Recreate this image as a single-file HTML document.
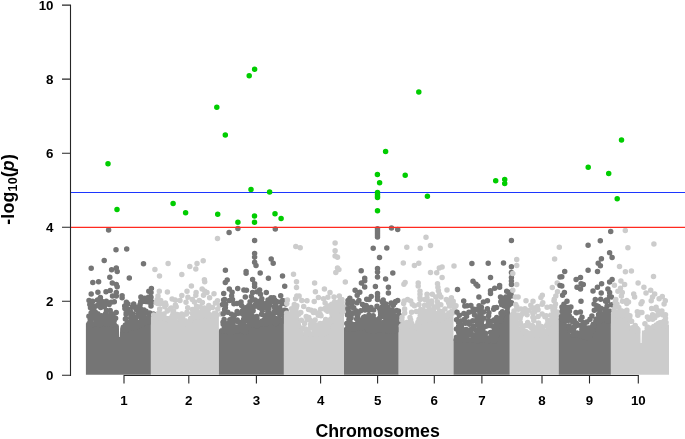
<!DOCTYPE html>
<html><head><meta charset="utf-8"><title>Manhattan plot</title>
<style>
html,body{margin:0;padding:0;background:#fff}
svg{display:block;will-change:transform}
text{font-family:"Liberation Sans",sans-serif;font-weight:bold;fill:#000}
.t{font-size:13.33px}
.l{font-size:17.78px}
</style></head><body>
<svg width="685" height="439" viewBox="0 0 685 439">
<rect width="685" height="439" fill="#fff"/>
<defs><clipPath id="c"><rect x="70.5" y="5.1" width="614.5" height="369.7"/></clipPath></defs>
<g clip-path="url(#c)">
<polygon points="85.9,374.9 85.9,323.5 86.2,323.5 86.4,323.5 86.7,323.5 86.9,323.5 87.2,323.5 87.4,323.5 87.7,323.5 87.9,323.5 88.2,323.5 88.4,323.5 88.7,323.5 88.9,323.5 89.2,323.5 89.4,323.5 89.7,323.5 89.9,323.5 90.2,323.5 90.4,323.5 90.7,323.5 90.9,323.5 91.2,323.5 91.4,323.5 91.7,323.5 91.9,323.5 92.2,323.5 92.4,323.5 92.7,323.5 92.9,323.5 93.2,323.5 93.4,323.5 93.7,323.5 93.9,323.5 94.2,323.5 94.4,323.5 94.7,323.5 94.9,323.5 95.2,323.5 95.4,323.5 95.7,323.5 95.9,323.5 96.2,323.5 96.4,323.5 96.7,323.5 96.9,323.5 97.2,323.5 97.4,323.5 97.7,323.5 97.9,323.5 98.2,323.5 98.4,323.5 98.7,323.5 98.9,323.5 99.2,323.5 99.4,323.5 99.7,323.5 99.9,323.5 100.2,323.5 100.4,323.5 100.7,323.5 100.9,323.5 101.2,323.5 101.4,323.5 101.7,323.5 101.9,323.5 102.2,323.5 102.4,323.5 102.7,323.5 102.9,323.5 103.2,323.5 103.4,323.5 103.7,323.5 103.9,323.5 104.2,323.5 104.4,323.5 104.7,323.5 104.9,323.5 105.2,323.5 105.4,323.5 105.7,323.5 105.9,323.5 106.2,323.5 106.4,323.5 106.7,323.5 106.9,323.5 107.2,323.5 107.4,323.5 107.7,323.5 107.9,323.5 108.2,323.5 108.4,323.5 108.7,323.5 108.9,323.5 109.2,323.5 109.4,323.5 109.7,323.5 109.9,323.5 110.2,323.5 110.4,323.5 110.7,323.5 110.9,323.5 111.2,323.5 111.4,323.5 111.7,323.5 111.9,323.5 112.2,323.5 112.4,323.5 112.7,323.5 112.9,323.5 113.2,323.5 113.4,323.5 113.7,323.5 113.9,323.5 114.2,323.5 114.4,323.5 114.7,323.5 114.9,323.5 115.2,323.5 115.4,323.5 115.7,323.5 115.9,323.5 116.2,323.5 116.4,323.5 116.7,323.9 116.9,323.9 117.2,323.9 117.4,323.9 117.7,324.6 117.9,324.6 118.2,324.6 118.4,324.6 118.7,325.7 118.9,325.7 119.2,337 119.4,337 119.7,337 119.9,337 120.2,327.1 120.4,327.1 120.7,328.2 120.9,328.2 121.2,328.1 121.4,328.1 121.7,328.8 121.9,328.8 122.2,328.8 122.4,328.8 122.7,329.1 122.9,329.1 123.2,329 123.4,329 123.7,329 123.9,328.9 124.2,328.9 124.4,328.9 124.7,328.8 124.9,328.8 125.2,328.8 125.4,328.7 125.7,328.7 125.9,328.7 126.2,328.6 126.4,328.6 126.7,328.6 126.9,328.5 127.2,328.5 127.4,328.5 127.7,328.4 127.9,328.4 128.2,328.4 128.4,328.4 128.7,328.3 128.9,328.3 129.2,328.3 129.4,328.2 129.7,328.2 129.9,328.2 130.2,328.1 130.4,328.1 130.7,328.1 130.9,328 131.2,328 131.4,328 131.7,327.9 131.9,327.9 132.2,327.9 132.4,327.8 132.7,327.8 132.9,327.7 133.2,327.7 133.4,327.6 133.7,327.6 133.9,327.5 134.2,327.4 134.4,327.3 134.7,327.2 134.9,327.1 135.2,327 135.4,326.9 135.7,326.7 135.9,326.6 136.2,326.4 136.4,326.3 136.7,326.1 136.9,325.9 137.2,325.7 137.4,325.6 137.7,325.4 137.9,325.2 138.2,325 138.4,324.9 138.7,324.7 138.9,324.5 139.2,324.3 139.4,324.2 139.7,324 139.9,323.9 140.2,323.8 140.4,323.6 140.7,323.5 140.9,323.4 141.2,323.3 141.4,323.2 141.7,323.1 141.9,323 142.2,323 142.4,322.9 142.7,322.8 142.9,322.7 143.2,322.7 143.4,322.6 143.7,322.5 143.9,322.5 144.2,322.4 144.4,322.3 144.7,322.3 144.9,322.2 145.2,322.1 145.4,322.1 145.7,322 145.9,321.9 146.2,321.9 146.4,321.8 146.7,321.8 146.9,321.7 147.2,321.6 147.4,321.6 147.7,321.5 147.9,321.4 148.2,321.4 148.4,321.3 148.7,321.2 148.9,321.2 149.2,321.1 149.4,321.1 149.7,321 149.9,321 150.2,320.9 150.4,320.9 150.7,320.8 150.9,320.8 150.9,374.9" fill="#757575"/>
<path d="M89.1 323.5h.01M90.3 321.4h.01M90.2 319.4h.01M88.9 316.2h.01M91.1 313.1h.01M90.5 307.7h.01M89.8 304.6h.01M91.2 303.6h.01M89 300.6h.01M93 324.6h.01M92.4 317.8h.01M94.3 314.3h.01M94.6 313.1h.01M93.9 310h.01M91.8 305.5h.01M97.6 323h.01M95.8 320.5h.01M96 319h.01M94.8 314.2h.01M95.4 312.3h.01M96 305.9h.01M97.7 324.2h.01M99.3 319.6h.01M99.2 317.6h.01M97.8 313.8h.01M98.8 304.2h.01M101 323h.01M102.1 319.2h.01M101.7 315.7h.01M100.7 307.6h.01M101.1 305.9h.01M102.2 301.6h.01M106.1 323.3h.01M105.2 321.4h.01M103.7 318.7h.01M105.7 313.6h.01M106.5 310.5h.01M104.3 306.8h.01M104.3 302.6h.01M109.1 322.6h.01M107.9 319.7h.01M107 316h.01M109.1 304.6h.01M110.4 324.2h.01M112.4 321.4h.01M111.4 316.8h.01M112.4 315h.01M111.2 313.4h.01M110.2 310.5h.01M111.1 302.3h.01M114 323.7h.01M114.2 320.4h.01M114.2 318.1h.01M114.3 301.7h.01M116.2 312.5h.01M123.3 327.3h.01M126 330.3h.01M125.4 324.9h.01M125.4 318.9h.01M125.7 318.8h.01M126.1 314.3h.01M126.2 312.8h.01M124.9 308.6h.01M124.7 305.9h.01M126.4 302.2h.01M130.3 328.6h.01M130.1 327h.01M129.2 321.9h.01M130.3 313.4h.01M127.7 309h.01M128 303.9h.01M131.4 327.9h.01M132.9 324.1h.01M131.8 322.6h.01M133 319.2h.01M130.9 317.6h.01M132.9 314.1h.01M130.7 311.9h.01M132.7 307h.01M134.5 325.9h.01M135.4 320.1h.01M136.5 317.1h.01M136.3 309.4h.01M136.3 307.1h.01M133.7 304h.01M137.8 325h.01M137.7 323.7h.01M136.8 321.7h.01M139.5 315.3h.01M138.2 312.4h.01M139.5 307.4h.01M141.1 324.9h.01M141.9 320h.01M141.6 319.1h.01M140.8 316.5h.01M140.3 311.3h.01M140.3 308.3h.01M140.1 304.4h.01M140.7 301.7h.01M144.2 319.9h.01M143.5 315h.01M144 309.9h.01M142.7 301.6h.01M147.6 321.7h.01M147.3 320.9h.01M148.4 313h.01M146 311.2h.01M145.9 301.4h.01M148.7 321.7h.01M149.9 319.4h.01M151.4 316.5h.01M149.7 312.9h.01M151 306h.01M149.3 302.3h.01M151.1 301.5h.01M151.8 319.6h.01M153.4 314.1h.01M152 302h.01M88.7 324.4h.01M90.6 323.3h.01M93.4 324h.01M95.2 318.8h.01M96.2 323.2h.01M98.8 320.9h.01M99.9 324.4h.01M101.1 318.2h.01M102.6 321.1h.01M105.4 323.5h.01M106.9 316.6h.01M109.1 323.7h.01M111.6 323.5h.01M113.1 324.5h.01M115.6 318.3h.01M123.8 328.7h.01M125.3 328.5h.01M127.3 323.1h.01M128.7 325.4h.01M131.1 324.8h.01M133.7 326.5h.01M135.3 327.5h.01M137.1 323.9h.01M138.2 326.4h.01M140.7 324.5h.01M141.9 324.5h.01M144 322.8h.01M146.9 317.7h.01M149.9 321.5h.01M151.1 321.7h.01M153.1 318.7h.01M108.6 229.9h.01M116 249.7h.01M126.7 248.9h.01M104.2 260.6h.01M91.2 268.3h.01M143.5 263.8h.01M111.6 269.7h.01M116.3 268h.01M117.2 271.5h.01M109.8 277.3h.01M129.3 278h.01M92.8 282.5h.01M98.6 281.8h.01M112.3 283.1h.01M116.3 284.6h.01M117.2 286.8h.01M110.2 290.4h.01M106 291.8h.01M97.9 292.2h.01M91.2 294.1h.01M116.3 292.5h.01M112.5 296.1h.01M116.3 296h.01M122.1 295.7h.01M122.1 297.8h.01M100.4 297.6h.01M97.5 300h.01M92.6 301.3h.01M106.3 301.3h.01M151.4 288.5h.01M148.8 291.3h.01M151 292.5h.01M140.9 296.9h.01M144.9 298.3h.01M151 297.3h.01M148.4 297.3h.01" stroke="#757575" stroke-width="5.5" stroke-linecap="round" fill="none"/>
<polygon points="150.9,374.9 150.9,316.5 151.2,316.5 151.4,316.5 151.7,316.6 151.9,316.6 152.2,316.6 152.4,316.6 152.7,316.6 152.9,316.6 153.2,316.6 153.4,316.7 153.7,316.7 153.9,316.7 154.2,316.7 154.4,316.7 154.7,316.7 154.9,316.8 155.2,316.8 155.4,316.8 155.7,316.8 155.9,316.8 156.2,316.8 156.4,316.9 156.7,316.9 156.9,316.9 157.2,316.9 157.4,316.9 157.7,317 157.9,317 158.2,317 158.4,317 158.7,317 158.9,317.1 159.2,317.1 159.4,317.1 159.7,317.1 159.9,317.1 160.2,317.1 160.4,317.2 160.7,317.2 160.9,317.2 161.2,317.2 161.4,317.2 161.7,317.3 161.9,317.3 162.2,317.3 162.4,317.3 162.7,317.3 162.9,317.4 163.2,317.4 163.4,317.4 163.7,317.4 163.9,317.4 164.2,317.5 164.4,317.5 164.7,317.5 164.9,317.6 165.2,317.6 165.4,317.6 165.7,317.7 165.9,317.7 166.2,317.8 166.4,317.8 166.7,317.8 166.9,317.9 167.2,317.9 167.4,318 167.7,318 167.9,318.1 168.2,318.1 168.4,318.2 168.7,318.2 168.9,318.3 169.2,318.3 169.4,318.4 169.7,318.4 169.9,318.5 170.2,318.5 170.4,318.6 170.7,318.6 170.9,318.7 171.2,318.7 171.4,318.8 171.7,318.8 171.9,318.9 172.2,318.9 172.4,319 172.7,319 172.9,319.1 173.2,319.1 173.4,319.2 173.7,319.2 173.9,319.3 174.2,319.3 174.4,319.4 174.7,319.4 174.9,319.5 175.2,319.5 175.4,319.6 175.7,319.6 175.9,319.7 176.2,319.7 176.4,319.8 176.7,319.8 176.9,319.9 177.2,319.9 177.4,320 177.7,320.1 177.9,320.1 178.2,320.2 178.4,320.3 178.7,320.4 178.9,320.5 179.2,320.6 179.4,320.7 179.7,320.8 179.9,320.9 180.2,321.1 180.4,321.3 180.7,321.5 180.9,321.6 181.2,321.8 181.4,322 181.7,322.3 181.9,322.5 182.2,322.7 182.4,322.9 182.7,323.2 182.9,323.4 183.2,323.6 183.4,323.9 183.7,324.1 183.9,324.3 184.2,324.6 184.4,324.8 184.7,325 184.9,325.2 185.2,325.3 185.4,325.5 185.7,325.7 185.9,325.8 186.2,325.9 186.4,325.9 186.7,325.9 186.9,325.9 187.2,325.8 187.4,325.6 187.7,325.4 187.9,325.1 188.2,324.8 188.4,324.4 188.7,324 188.9,323.6 189.2,323 189.4,322.4 189.7,321.8 189.9,321.2 190.2,320.6 190.4,320 190.7,319.4 190.9,318.8 191.2,318.3 191.4,317.9 191.7,317.4 191.9,317 192.2,316.7 192.4,316.4 192.7,316.1 192.9,315.9 193.2,315.7 193.4,315.6 193.7,315.5 193.9,315.4 194.2,315.4 194.4,315.4 194.7,315.4 194.9,315.4 195.2,315.4 195.4,315.3 195.7,315.3 195.9,315.3 196.2,315.3 196.4,315.3 196.7,315.3 196.9,315.3 197.2,315.3 197.4,315.3 197.7,315.3 197.9,315.3 198.2,315.2 198.4,315.2 198.7,315.2 198.9,315.2 199.2,315.2 199.4,315.2 199.7,315.2 199.9,315.2 200.2,315.2 200.4,315.2 200.7,315.2 200.9,315.1 201.2,315.1 201.4,315.1 201.7,315.1 201.9,315.1 202.2,315.1 202.4,315.1 202.7,315.1 202.9,315.1 203.2,315.1 203.4,315.1 203.7,315 203.9,315 204.2,315 204.4,315 204.7,315 204.9,315 205.2,315 205.4,315 205.7,315 205.9,315 206.2,315 206.4,315 206.7,314.9 206.9,314.9 207.2,314.9 207.4,314.9 207.7,314.9 207.9,314.9 208.2,314.9 208.4,314.9 208.7,314.9 208.9,314.9 209.2,314.9 209.4,314.8 209.7,314.8 209.9,314.8 210.2,314.8 210.4,314.8 210.7,314.8 210.9,314.8 211.2,314.8 211.4,314.8 211.7,314.8 211.9,314.8 212.2,314.7 212.4,314.7 212.7,314.7 212.9,314.7 213.2,314.7 213.4,314.7 213.7,314.7 213.9,314.7 214.2,314.7 214.4,314.7 214.7,314.7 214.9,314.6 215.2,314.6 215.4,314.6 215.7,314.6 215.9,314.6 216.2,314.6 216.4,314.6 216.7,314.6 216.9,314.6 217.2,314.6 217.4,314.6 217.7,314.6 217.9,314.6 218.2,314.5 218.4,314.5 218.7,314.5 218.9,314.5 218.9,374.9" fill="#cccccc"/>
<path d="M154.9 316.8h.01M156.2 302.8h.01M159.6 318.6h.01M157.5 303.5h.01M160.3 318.4h.01M159.7 309.1h.01M160.6 303.5h.01M163.7 318.1h.01M164.8 306.7h.01M165.4 303.1h.01M168.4 319.4h.01M166 304.9h.01M169 319.5h.01M170.3 309h.01M171.2 307.9h.01M172.2 319.4h.01M172 316.6h.01M173 313.3h.01M173.6 311.6h.01M174.8 320.4h.01M177.3 314.6h.01M176.2 306.7h.01M175.4 304.9h.01M175.2 300h.01M180.6 320.2h.01M180 318.3h.01M182.2 320.9h.01M181.3 318.6h.01M180.7 316.5h.01M181.7 313.9h.01M184.7 324.3h.01M186.4 314.1h.01M186 302.2h.01M189 325.8h.01M189.2 322.7h.01M187 312.2h.01M187.7 307.7h.01M190.4 321.3h.01M192.3 313.5h.01M192.4 309.6h.01M193 315.2h.01M193.1 314.9h.01M194.7 310.1h.01M194.4 301.9h.01M196.5 317h.01M197.9 313.7h.01M196.9 311.3h.01M196.5 306.2h.01M198.7 316.6h.01M200.1 306.7h.01M202.7 315.9h.01M204.3 308h.01M202.4 302.4h.01M207 315.3h.01M206 311.4h.01M205.2 310.1h.01M209 316.3h.01M208.3 309.7h.01M208.8 305.5h.01M213.2 314.8h.01M212.5 307.5h.01M215.3 316.2h.01M215.4 303.1h.01M216.7 315.3h.01M220.9 314.1h.01M153.7 315.1h.01M156 316.6h.01M158.8 313.1h.01M159.9 313.6h.01M162.8 314.4h.01M164 313.9h.01M166.3 318.5h.01M167.3 311.1h.01M169.6 318.4h.01M170.8 319h.01M172.3 315.9h.01M174 319.6h.01M176.8 316.7h.01M178.1 315.3h.01M180.4 317.7h.01M182.7 317.4h.01M185.3 320.8h.01M186.7 323.5h.01M188.7 323.2h.01M190.6 318.5h.01M192.7 318.2h.01M194.2 316.6h.01M196.2 316.2h.01M198.1 315.9h.01M200.1 314.5h.01M202.2 311.2h.01M203.2 311.5h.01M205.1 314h.01M207.4 311.4h.01M209.2 314.5h.01M212.1 315.6h.01M214.4 313.2h.01M215.4 313.3h.01M217.8 308.9h.01M219.5 305.5h.01M221.5 313.9h.01M168.1 263.4h.01M154.9 269.6h.01M159.5 276.1h.01M181.8 274.5h.01M189.8 266.6h.01M197 263.4h.01M195.8 269h.01M191.4 285.9h.01M159.3 291.3h.01M167.4 292h.01M187 291.3h.01M181.8 295.5h.01M196.1 292.5h.01M195.8 295.2h.01M158 296h.01M172.1 299h.01M187.9 297.3h.01M157.2 299.6h.01M160.7 300.4h.01M180 300.4h.01M192.3 299.6h.01M199.3 300.4h.01M217.5 238.5h.01M203.2 260.8h.01M204.4 279.7h.01M204.7 281.7h.01M202.1 289h.01M204.9 291.3h.01M207 292.5h.01M214 293.8h.01M203.5 295.2h.01M209.6 297.8h.01M217.5 300.8h.01" stroke="#cccccc" stroke-width="5.5" stroke-linecap="round" fill="none"/>
<polygon points="218.9,374.9 218.9,330.5 219.2,330.5 219.4,330.5 219.7,330.5 219.9,330.5 220.2,330.5 220.4,330.5 220.7,330.5 220.9,330.5 221.2,330.5 221.4,330.5 221.7,330.5 221.9,330.5 222.2,330.5 222.4,330.5 222.7,330.5 222.9,330.5 223.2,330.5 223.4,330.5 223.7,330.5 223.9,330.5 224.2,330.5 224.4,330.5 224.7,330.5 224.9,330.5 225.2,330.5 225.4,330.5 225.7,330.5 225.9,330.5 226.2,330.5 226.4,330.5 226.7,330.5 226.9,330.5 227.2,330.5 227.4,330.5 227.7,330.5 227.9,330.5 228.2,330.5 228.4,330.5 228.7,330.5 228.9,330.5 229.2,330.5 229.4,330.5 229.7,330.5 229.9,330.5 230.2,330.5 230.4,330.5 230.7,330.5 230.9,330.5 231.2,330.5 231.4,330.5 231.7,330.5 231.9,330.5 232.2,330.5 232.4,330.5 232.7,330.5 232.9,330.5 233.2,330.5 233.4,330.5 233.7,330.5 233.9,330.5 234.2,330.5 234.4,330.5 234.7,330.5 234.9,330.5 235.2,330.5 235.4,330.5 235.7,330.5 235.9,330.5 236.2,330.5 236.4,330.5 236.7,330.5 236.9,330.5 237.2,330.5 237.4,330.5 237.7,330.5 237.9,330.5 238.2,330.5 238.4,330.5 238.7,330.5 238.9,330.5 239.2,330.5 239.4,330.5 239.7,330.5 239.9,330.5 240.2,330.5 240.4,330.5 240.7,330.5 240.9,330.5 241.2,330.5 241.4,330.5 241.7,330.5 241.9,330.5 242.2,330.5 242.4,330.4 242.7,330.4 242.9,330.3 243.2,330.2 243.4,330.1 243.7,329.9 243.9,329.8 244.2,329.6 244.4,329.4 244.7,329.1 244.9,328.9 245.2,328.6 245.4,328.3 245.7,327.9 245.9,327.6 246.2,327.3 246.4,326.9 246.7,326.6 246.9,326.3 247.2,326 247.4,325.7 247.7,325.5 247.9,325.2 248.2,325 248.4,324.9 248.7,324.7 248.9,324.6 249.2,324.5 249.4,324.4 249.7,324.3 249.9,324.3 250.2,324.2 250.4,324.2 250.7,324.2 250.9,324.1 251.2,324.1 251.4,324.1 251.7,324.1 251.9,324.1 252.2,324 252.4,324 252.7,324 252.9,324 253.2,323.9 253.4,323.9 253.7,323.9 253.9,323.9 254.2,323.8 254.4,323.8 254.7,323.8 254.9,323.8 255.2,323.8 255.4,323.7 255.7,323.7 255.9,323.7 256.1,323.7 256.4,323.6 256.6,323.6 256.9,323.6 257.1,323.6 257.4,323.6 257.6,323.5 257.9,323.5 258.1,323.5 258.4,323.5 258.6,323.4 258.9,323.4 259.1,323.4 259.4,323.4 259.6,323.3 259.9,323.3 260.1,323.3 260.4,323.3 260.6,323.3 260.9,323.2 261.1,323.2 261.4,323.2 261.6,323.2 261.9,323.1 262.1,323.1 262.4,323.1 262.6,323.1 262.9,323.1 263.1,323 263.4,323 263.6,323 263.9,323 264.1,322.9 264.4,322.9 264.6,322.9 264.9,322.9 265.1,322.8 265.4,322.8 265.6,322.8 265.9,322.8 266.1,322.8 266.4,322.7 266.6,322.7 266.9,322.7 267.1,322.7 267.4,322.6 267.6,322.6 267.9,322.6 268.1,322.6 268.4,322.6 268.6,322.5 268.9,322.5 269.1,322.5 269.4,322.5 269.6,322.4 269.9,322.4 270.1,322.4 270.4,322.4 270.6,322.3 270.9,322.3 271.1,322.3 271.4,322.3 271.6,322.3 271.9,322.2 272.1,322.2 272.4,322.2 272.6,322.2 272.9,322.1 273.1,322.1 273.4,322.1 273.6,322.1 273.9,322.1 274.1,322 274.4,322 274.6,322 274.9,322 275.1,321.9 275.4,321.9 275.6,321.9 275.9,321.9 276.1,321.8 276.4,321.8 276.6,321.8 276.9,321.8 277.1,321.7 277.4,321.7 277.6,321.6 277.9,321.6 278.1,321.5 278.4,321.4 278.6,321.3 278.9,321.2 279.1,321 279.4,320.8 279.6,320.6 279.9,320.4 280.1,320.1 280.4,319.8 280.6,319.5 280.9,319.2 281.1,318.8 281.4,318.4 281.6,318 281.9,317.7 282.1,317.3 282.4,316.9 282.6,316.6 282.9,316.2 283.1,315.9 283.4,315.6 283.6,315.3 283.9,314.9 283.9,374.9" fill="#757575"/>
<path d="M223.8 330.6h.01M224.2 328.4h.01M223.2 324.2h.01M223 322.2h.01M224.1 319.6h.01M223.2 313.7h.01M224.6 309.5h.01M222.6 304.6h.01M223.6 300.1h.01M226.5 330.4h.01M226.7 328.9h.01M226 324.2h.01M225.2 323.4h.01M225.8 312h.01M225.4 307.6h.01M225.6 304.2h.01M229.6 331.9h.01M227.7 329.5h.01M228 323.6h.01M230.3 323.1h.01M229.8 319.8h.01M227.8 312.2h.01M229.5 300.4h.01M230.8 331.4h.01M232 327.5h.01M233 325.4h.01M232.5 322.2h.01M233 317.7h.01M231.5 314.3h.01M232.5 299.6h.01M233.7 331.7h.01M235.4 327.1h.01M236.1 321.1h.01M234.5 314.9h.01M233.9 303.8h.01M237.3 330.8h.01M238.1 321.7h.01M237.2 320h.01M238.3 313.3h.01M237.1 311.4h.01M237 303.6h.01M242.1 329.6h.01M239.8 328.9h.01M239.9 326.3h.01M242.3 322.1h.01M241.4 313.3h.01M242.5 310.7h.01M241.6 305.6h.01M241 302h.01M245.6 332.2h.01M244.9 326.5h.01M243.5 324.6h.01M243.6 319.6h.01M244.1 316.8h.01M243.1 312.3h.01M244.8 310.8h.01M245.4 307.7h.01M246.3 329.6h.01M247.3 326.3h.01M246.9 320.3h.01M248.2 316.8h.01M247.1 313.8h.01M248.6 308.6h.01M251.1 322.6h.01M248.7 318.1h.01M249.2 316.3h.01M250.4 311.2h.01M251 306.5h.01M248.9 305.4h.01M250.1 301.8h.01M254.4 324.6h.01M252.2 317.6h.01M252.1 316h.01M251.7 312.5h.01M253.2 310.7h.01M257.1 325.7h.01M256.7 322.2h.01M256.4 318.1h.01M256.8 316.5h.01M255 306.3h.01M255.5 304.4h.01M255.1 300h.01M259 322.6h.01M259.2 307.6h.01M258.9 302.6h.01M259.2 301.3h.01M263.4 323.4h.01M262.2 320.9h.01M261.6 314.3h.01M262.4 310.4h.01M261.5 308.8h.01M261.1 306.9h.01M261.5 303h.01M261.4 301h.01M264.8 323.2h.01M264.7 319.4h.01M265.3 317.5h.01M266.6 315.1h.01M263.9 307.4h.01M263.8 305.8h.01M265.9 303.6h.01M267 322.1h.01M268.9 319.9h.01M269.5 317h.01M269 313.1h.01M267.8 311.3h.01M268.8 308.8h.01M268.3 305.5h.01M269 301.2h.01M268 300.1h.01M272.4 322.1h.01M272.6 319.9h.01M271.7 317.3h.01M271.4 314.4h.01M269.9 305.3h.01M271.3 301.7h.01M273 321.5h.01M275.1 318.2h.01M273.1 314.3h.01M274.2 311.6h.01M274.5 307.3h.01M275.6 304.2h.01M273.9 300.8h.01M274.7 300.1h.01M276 323.4h.01M278.1 319h.01M275.7 312.6h.01M277.8 310.8h.01M276.4 308.6h.01M276.7 301.5h.01M281.5 321.7h.01M279.8 315.1h.01M279.6 311.6h.01M281 310.5h.01M279.7 307.7h.01M280.3 301.9h.01M284.2 319.5h.01M284.2 314.4h.01M282.7 311.7h.01M284.5 310.2h.01M282.3 303.5h.01M283.8 301.1h.01M285.3 315.8h.01M285 311.4h.01M286 310.6h.01M285.7 304.1h.01M285.3 301.3h.01M221.7 330.8h.01M224.3 330.4h.01M226.6 331h.01M227.8 325.4h.01M230.3 328.4h.01M231.4 331.4h.01M232.7 330.9h.01M234.3 330.3h.01M235.4 330.6h.01M237.7 331h.01M240.3 329.4h.01M242.8 330.8h.01M244.6 328.3h.01M246.3 329.8h.01M249 322.7h.01M250.6 325.3h.01M253.3 322.7h.01M254.4 324.3h.01M255.6 320.9h.01M257 318.6h.01M259.5 324.3h.01M261.9 323h.01M264.4 319.6h.01M266 323.7h.01M268.9 322.3h.01M271.7 320.4h.01M274.2 318.7h.01M276.5 321.4h.01M277.6 319.9h.01M279.4 320.7h.01M282.3 319.8h.01M284.8 316.4h.01M229.1 232.4h.01M237.9 228.5h.01M275.3 228.9h.01M254.6 240.4h.01M254.6 253.4h.01M254.6 256.9h.01M254.6 262.2h.01M256 265.4h.01M271.2 259h.01M273.2 263.2h.01M225.4 270.3h.01M246.1 271.5h.01M246.1 273.2h.01M260.2 272.9h.01M282.5 276.1h.01M268.4 278.2h.01M252.6 279.4h.01M227.2 279.9h.01M225.3 282.4h.01M254.6 283.8h.01M254.6 286.4h.01M284.7 286.2h.01M229.3 289h.01M237.7 288.5h.01M243.9 289.9h.01M246.5 290.3h.01M259.6 289.9h.01M232.1 292.2h.01M223.7 293.4h.01M252.6 292.5h.01M257 291.7h.01M266.3 292.5h.01M231.6 296.1h.01M245.3 296.9h.01M251.4 296.6h.01M260.5 294.3h.01M280.7 295.7h.01M271.1 297.8h.01M273.7 297.8h.01M261.8 298.7h.01M224.6 299.6h.01M252.6 299.6h.01M282.5 300.8h.01" stroke="#757575" stroke-width="5.5" stroke-linecap="round" fill="none"/>
<polygon points="283.9,374.9 283.9,314.5 284.1,314.5 284.4,314.5 284.6,314.5 284.9,314.5 285.1,314.5 285.4,314.5 285.6,314.5 285.9,314.5 286.1,314.5 286.4,314.5 286.6,314.5 286.9,314.5 287.1,314.5 287.4,314.5 287.6,314.5 287.9,314.5 288.1,314.5 288.4,314.5 288.6,314.5 288.9,314.5 289.1,314.5 289.4,314.5 289.6,314.5 289.9,314.5 290.1,314.5 290.4,314.5 290.6,314.5 290.9,314.5 291.1,314.5 291.4,314.5 291.6,314.5 291.9,314.5 292.1,314.5 292.4,314.5 292.6,314.5 292.9,314.5 293.1,314.5 293.4,314.5 293.6,314.5 293.9,314.5 294.1,314.5 294.4,314.5 294.6,314.5 294.9,314.5 295.1,314.5 295.4,314.5 295.6,314.5 295.9,314.5 296.1,314.5 296.4,314.5 296.6,314.5 296.9,314.5 297.1,314.6 297.4,314.7 297.6,314.9 297.9,315 298.1,315.4 298.4,315.8 298.6,316.3 298.9,316.7 299.1,317.3 299.4,318.1 299.6,318.8 299.9,319.5 300.1,320.5 300.4,321.5 300.6,322.5 300.9,323.6 301.1,324.6 301.4,325.7 301.6,326.7 301.9,327.7 302.1,328.6 302.4,329.3 302.6,330.1 302.9,330.8 303.1,331.4 303.4,331.8 303.6,332.3 303.9,332.7 304.1,333 304.4,333.1 304.6,333.3 304.9,333.4 305.1,333.5 305.4,333.5 305.6,333.5 305.9,333.5 306.1,333.5 306.4,333.5 306.6,333.5 306.9,333.5 307.1,333.5 307.4,333.5 307.6,333.5 307.9,333.5 308.1,333.5 308.4,333.5 308.6,333.5 308.9,333.5 309.1,333.5 309.4,333.5 309.6,333.5 309.9,333.5 310.1,333.5 310.4,333.5 310.6,333.5 310.9,333.5 311.1,333.5 311.4,333.5 311.6,333.5 311.9,333.5 312.1,333.5 312.4,333.5 312.6,333.5 312.9,333.5 313.1,333.5 313.4,333.5 313.6,333.5 313.9,333.5 314.1,333.5 314.4,333.5 314.6,333.5 314.9,333.5 315.1,333.5 315.4,333.5 315.6,333.5 315.9,333.5 316.1,333.5 316.4,333.5 316.6,333.5 316.9,333.5 317.1,333.5 317.4,333.5 317.6,333.5 317.9,333.5 318.1,333.5 318.4,333.5 318.6,333.5 318.9,333.5 319.1,333.5 319.4,333.5 319.6,333.5 319.9,333.5 320.1,333.5 320.4,333.5 320.6,333.5 320.9,333.5 321.1,333.5 321.4,333.5 321.6,333.5 321.9,333.5 322.1,333.5 322.4,333.5 322.6,333.5 322.9,333.5 323.1,333.5 323.4,333.5 323.6,333.5 323.9,333.5 324.1,333.5 324.4,333.5 324.6,333.5 324.9,333.5 325.1,333.3 325.4,332.9 325.6,332.6 325.9,332.2 326.1,331.6 326.4,330.9 326.6,330.2 326.9,329.5 327.1,328.5 327.4,327.5 327.6,326.4 327.9,325.3 328.1,324 328.4,322.5 328.6,321.1 328.9,319.7 329.1,318.4 329.4,317.3 329.6,316.3 329.9,315.2 330.1,314.3 330.4,313.6 330.6,312.8 330.9,312.1 331.1,311.6 331.4,311.2 331.6,310.8 331.9,310.5 332.1,310.3 332.4,310.3 332.6,310.3 332.9,310.2 333.1,310.2 333.4,310.2 333.6,310.2 333.9,310.2 334.1,310.2 334.4,310.1 334.6,310.1 334.9,310.1 335.1,310.1 335.4,310.1 335.6,310.1 335.9,310 336.1,310 336.4,310 336.6,310 336.9,310 337.1,310 337.4,309.9 337.6,309.9 337.9,309.9 338.1,309.9 338.4,309.9 338.6,309.9 338.9,309.8 339.1,309.8 339.4,309.8 339.6,309.8 339.9,309.8 340.1,309.8 340.4,309.8 340.6,309.7 340.9,309.7 341.1,309.7 341.4,309.7 341.6,309.7 341.9,309.7 342.1,309.6 342.4,309.6 342.6,309.6 342.9,309.6 343.1,309.6 343.4,309.6 343.6,309.6 343.9,309.6 344,309.6 344,374.9" fill="#cccccc"/>
<path d="M287.4 314.9h.01M286.8 303.4h.01M292.1 314.9h.01M291.6 308.7h.01M292.9 314.3h.01M294.1 306.2h.01M294.3 304.5h.01M298 314h.01M296.2 308h.01M296.8 305.8h.01M298.8 314.2h.01M300.8 312.5h.01M301.9 328.3h.01M304.6 323.5h.01M303.7 306.4h.01M305.8 333.6h.01M306.2 330.7h.01M305 328.8h.01M307.2 319.6h.01M306.2 316.6h.01M308 332.5h.01M310.1 328.3h.01M310.5 324.8h.01M310 320.3h.01M308.8 317.5h.01M308.5 309.4h.01M311 334.4h.01M312.5 323.2h.01M313.4 312.5h.01M311.2 310.2h.01M316.1 332.7h.01M314.7 332h.01M316.3 327.1h.01M314.2 324h.01M315.1 320h.01M316.3 312.7h.01M314.6 310.9h.01M314.2 301.4h.01M317.1 330.5h.01M317.5 328h.01M318.4 324.9h.01M318.3 315.2h.01M320.7 333.8h.01M319.8 331.5h.01M322.6 328.1h.01M320.4 325.8h.01M320.1 323.5h.01M321 315.8h.01M320.2 314.3h.01M320.6 309.3h.01M322.9 334h.01M323.4 329.4h.01M323.5 324.4h.01M323.8 322.9h.01M324.9 308.6h.01M325.1 302.9h.01M326.9 332.3h.01M325.8 330.1h.01M327.5 327.4h.01M327.4 324.6h.01M325.7 319.6h.01M327.5 311.2h.01M325.9 309.9h.01M328 307.1h.01M331 321.5h.01M330.2 307.6h.01M328.7 306h.01M332.2 310.4h.01M331.7 304.3h.01M334.6 302.1h.01M335.3 311.4h.01M336 308.4h.01M336.9 304.2h.01M337.6 302.5h.01M340 309.3h.01M340.2 305.9h.01M337.7 305.6h.01M340.4 299.5h.01M341.9 311.4h.01M343.6 307.8h.01M342.1 302.3h.01M343.9 311.4h.01M346.7 308.8h.01M286.6 313.3h.01M289.6 314.8h.01M291.9 312.1h.01M293.7 312.4h.01M295.4 313.6h.01M297.7 312.7h.01M299.3 313.6h.01M301.4 320.3h.01M303.6 329.1h.01M306.4 332.9h.01M308.9 332.7h.01M310.8 333.9h.01M312.1 327.9h.01M314.2 332.6h.01M316.2 330.3h.01M317.7 334h.01M320.4 333h.01M322.6 330.1h.01M325.4 329.4h.01M326.5 333.1h.01M329.2 322.5h.01M330.4 319.5h.01M331.9 313.8h.01M333.6 307.2h.01M335.7 309.6h.01M336.9 309.8h.01M339.9 307.9h.01M341.7 309.1h.01M344.3 307h.01M345.6 307.7h.01M295.8 246.4h.01M300.2 247.8h.01M293.5 274.3h.01M296.5 281.8h.01M314.6 283.1h.01M296.5 287.6h.01M315.4 291.7h.01M296.8 296h.01M299.1 296h.01M318.4 297.5h.01M287.4 300h.01M295.6 298.7h.01M301.8 300.4h.01M307 300.8h.01M335.1 242.9h.01M335.1 250.8h.01M335.1 256.1h.01M337.5 257.3h.01M337.5 268h.01M338.9 269.4h.01M335.8 272.4h.01M324.4 289h.01M330 292.5h.01M339.3 296.1h.01M334 296.9h.01M327.9 297.3h.01M323.5 298.7h.01M341.9 299.6h.01M345.3 282h.01" stroke="#cccccc" stroke-width="5.5" stroke-linecap="round" fill="none"/>
<polygon points="344,374.9 344,327.5 344.2,327.5 344.5,327.5 344.8,327.5 345,327.5 345.2,327.5 345.5,327.5 345.8,327.5 346,327.5 346.2,327.5 346.5,327.5 346.8,327.5 347,327.5 347.2,327.5 347.5,327.5 347.8,327.5 348,327.5 348.2,327.5 348.5,327.5 348.8,327.5 349,327.5 349.2,327.5 349.5,327.5 349.8,327.5 350,327.5 350.2,327.5 350.5,327.5 350.8,327.5 351,327.5 351.2,327.5 351.5,327.5 351.8,327.5 352,327.5 352.2,327.5 352.5,327.5 352.8,327.5 353,327.5 353.2,327.5 353.5,327.5 353.8,327.5 354,327.5 354.2,327.5 354.5,327.5 354.8,327.5 355,327.5 355.2,327.5 355.5,327.5 355.8,327.5 356,327.5 356.2,327.5 356.5,327.5 356.8,327.5 357,327.5 357.2,327.5 357.5,327.5 357.8,327.5 358,327.5 358.2,327.5 358.5,327.5 358.8,327.5 359,327.5 359.2,327.5 359.5,327.5 359.8,327.5 360,327.5 360.2,327.5 360.5,327.5 360.8,327.5 361,327.5 361.2,327.5 361.5,327.5 361.8,327.5 362,327.5 362.2,327.5 362.5,327.5 362.8,327.5 363,327.5 363.2,327.5 363.5,327.5 363.8,327.5 364,327.5 364.2,327.5 364.5,327.5 364.8,327.5 365,327.6 365.2,327.6 365.5,327.7 365.8,327.7 366,327.8 366.2,327.8 366.5,327.9 366.8,328 367,328.1 367.2,328.3 367.5,328.4 367.8,328.5 368,328.7 368.2,328.8 368.5,329 368.8,329.1 369,329.3 369.2,329.4 369.5,329.6 369.8,329.7 370,329.9 370.2,329.9 370.5,330 370.8,330.1 371,330.2 371.2,330.2 371.5,330.3 371.8,330.3 372,330.4 372.2,330.4 372.5,330.4 372.8,330.4 373,330.4 373.2,330.4 373.5,330.4 373.8,330.4 374,330.4 374.2,330.4 374.5,330.3 374.8,330.3 375,330.3 375.2,330.3 375.5,330.3 375.8,330.3 376,330.3 376.2,330.3 376.5,330.3 376.8,330.3 377,330.3 377.2,330.2 377.5,330.2 377.8,330.2 378,330.2 378.2,330.2 378.5,330.2 378.8,330.2 379,330.2 379.2,330.2 379.5,330.2 379.8,330.2 380,330.2 380.2,330.1 380.5,330.1 380.8,330.1 381,330.1 381.2,330.1 381.5,330.1 381.8,330.1 382,330.1 382.2,330.1 382.5,330.1 382.8,330.1 383,330.1 383.2,330 383.5,330 383.8,330 384,330 384.2,330 384.5,330 384.8,330 385,330 385.2,330 385.5,330 385.8,330 386,329.9 386.2,329.9 386.5,329.9 386.8,329.9 387,329.9 387.2,329.9 387.5,329.9 387.8,329.9 388,329.9 388.2,329.9 388.5,329.9 388.8,329.9 389,329.8 389.2,329.8 389.5,329.8 389.8,329.8 390,329.8 390.2,329.8 390.5,329.8 390.8,329.8 391,329.8 391.2,329.8 391.5,329.8 391.8,329.8 392,329.7 392.2,329.7 392.5,329.7 392.8,329.7 393,329.7 393.2,329.7 393.5,329.7 393.8,329.7 394,329.7 394.2,329.7 394.5,329.7 394.8,329.6 395,329.6 395.2,329.6 395.5,329.6 395.8,329.6 396,329.6 396.2,329.6 396.5,329.6 396.8,329.6 397,329.6 397.2,329.6 397.5,329.6 397.8,329.6 398,329.5 398.2,329.5 398.5,329.5 398.7,329.5 398.7,374.9" fill="#757575"/>
<path d="M347.5 328.4h.01M347.9 326.4h.01M348.5 323.3h.01M348.9 319.7h.01M347.5 315h.01M348.7 311.9h.01M348 309.1h.01M347.9 308.4h.01M347.9 303.4h.01M348 300.6h.01M352 328.4h.01M351.2 323.8h.01M349.8 321.7h.01M351.1 318h.01M351.2 314.8h.01M351.2 313h.01M352 307.3h.01M351.8 303.8h.01M354.2 329.3h.01M354 324.7h.01M353.8 312.9h.01M355.7 310.7h.01M353.7 307.7h.01M357.1 328h.01M356.8 324.1h.01M358.5 321.8h.01M356.7 318.9h.01M357.4 316.5h.01M358.1 313.6h.01M357.1 302.7h.01M360.8 328.6h.01M361.3 326.1h.01M359.1 320.2h.01M360.7 310.7h.01M358.9 300.4h.01M361.8 325.4h.01M362.4 321.9h.01M363.1 318.3h.01M363.8 317.2h.01M364.5 308.5h.01M362.6 304.5h.01M365.4 326.8h.01M366.5 323.7h.01M367.6 321.6h.01M365.7 319.2h.01M367 317h.01M365 309.9h.01M366.4 306.2h.01M366.1 305.5h.01M366.7 299.2h.01M368.2 330.3h.01M369.2 323h.01M369.2 321.1h.01M369.3 317.5h.01M369 315h.01M368.5 310h.01M370.4 309.6h.01M371 330.4h.01M372.5 326.8h.01M370.9 325.4h.01M373.7 323h.01M372.8 317.7h.01M373.2 315.8h.01M373.6 309.9h.01M371 307.4h.01M376 330.5h.01M375.6 326.8h.01M374 324.2h.01M374.2 320.5h.01M376 320h.01M377.5 326.7h.01M377.3 324.9h.01M378.2 320.5h.01M378.9 319.1h.01M379.6 308.8h.01M377 306.3h.01M380.8 329.6h.01M380.6 328.9h.01M381.9 324.8h.01M382.2 322.8h.01M379.9 317.7h.01M380.6 314.3h.01M380.4 311.5h.01M382.4 310h.01M382.6 306.6h.01M382.2 301.7h.01M385.5 329.4h.01M383 327.2h.01M385.6 325h.01M384.6 321.9h.01M384.8 317.3h.01M383.8 314.1h.01M385.3 312h.01M384.1 308.8h.01M388 331.1h.01M387 326h.01M388.2 323.9h.01M388.6 320.8h.01M386.6 319.5h.01M388.2 314.6h.01M386.2 312.4h.01M388 307.4h.01M385.9 304.1h.01M389.9 329h.01M389.4 326.1h.01M391.3 323.9h.01M389.7 322.4h.01M390.2 318.2h.01M391 316h.01M391.5 312.3h.01M390.6 310.1h.01M391.2 303.1h.01M393.7 328.8h.01M393.8 326.4h.01M394.6 323.5h.01M392.9 320.3h.01M392.3 317.1h.01M393.3 314.7h.01M392.8 310.5h.01M393.3 305.2h.01M397.4 329.4h.01M396.7 326h.01M396.9 323.5h.01M395.6 322.4h.01M397.2 318.8h.01M395.4 316.4h.01M397.7 311.2h.01M396.8 310.4h.01M394.8 302.8h.01M395.6 301.5h.01M398.4 329.2h.01M400.3 326.1h.01M397.8 323.2h.01M399.3 321.3h.01M399.6 317.4h.01M399 315h.01M398.4 310.9h.01M346.8 323.5h.01M349.2 326h.01M350.7 327.4h.01M352 326h.01M355 327.6h.01M356.1 328h.01M357.8 322.8h.01M360.4 327h.01M361.6 328.2h.01M363 324.7h.01M364.9 316.8h.01M367.7 324.9h.01M369.7 325.6h.01M370.9 330.3h.01M373.1 329.5h.01M374.5 330.7h.01M375.5 325.4h.01M377.9 324h.01M380.9 329.7h.01M383.4 329.9h.01M386 326.4h.01M387.3 330.9h.01M388.7 328.7h.01M390.4 330.8h.01M393.1 326.9h.01M395 330.6h.01M397.8 328.7h.01M398.9 329.6h.01M401.2 325.1h.01M377.5 228.7h.01M377.5 231h.01M377.5 233h.01M377.5 235h.01M377.5 237.1h.01M391.5 228.1h.01M397.7 229.6h.01M373.2 248.2h.01M386.8 248h.01M379.5 257.6h.01M361.2 270.8h.01M377.5 268.5h.01M377.5 272h.01M392.8 273.1h.01M377.5 277.1h.01M385.6 279h.01M364.7 278.2h.01M364.7 280.8h.01M361.4 283.1h.01M364.7 286.9h.01M375.4 286.4h.01M388.4 287.3h.01M355.1 290.3h.01M359.8 292.2h.01M388.4 293.1h.01M377.5 293.4h.01M357.2 295.2h.01M371.2 296.6h.01M377.5 296.6h.01M349.8 298.2h.01M369.1 299.6h.01M383.2 300.1h.01M377.5 299.6h.01M397.7 300.4h.01M352.5 301.3h.01" stroke="#757575" stroke-width="5.5" stroke-linecap="round" fill="none"/>
<polygon points="398.7,374.9 398.7,325.5 398.9,325.5 399.2,325.5 399.4,325.6 399.7,325.6 399.9,325.6 400.2,325.6 400.4,325.6 400.7,325.6 400.9,325.6 401.2,325.6 401.4,325.7 401.7,325.7 401.9,325.7 402.2,325.7 402.4,325.7 402.7,325.7 402.9,325.7 403.2,325.8 403.4,325.8 403.7,325.8 403.9,325.8 404.2,325.8 404.4,325.8 404.7,325.9 404.9,325.9 405.2,325.9 405.4,325.9 405.7,325.9 405.9,325.9 406.2,325.9 406.4,326 406.7,326 406.9,326 407.2,326 407.4,326 407.7,326 407.9,326.1 408.2,326.1 408.4,326.1 408.7,326.1 408.9,326.1 409.2,326.1 409.4,326.2 409.7,326.2 409.9,326.2 410.2,326.2 410.4,326.2 410.7,326.2 410.9,326.2 411.2,326.3 411.4,326.3 411.7,326.3 411.9,326.3 412.2,326.3 412.4,326.2 412.7,326.2 412.9,326.1 413.2,326 413.4,325.8 413.7,325.6 413.9,325.5 414.2,325.2 414.4,324.9 414.7,324.6 414.9,324.3 415.2,323.9 415.4,323.4 415.7,323 415.9,322.6 416.2,322.1 416.4,321.7 416.7,321.3 416.9,320.8 417.2,320.5 417.4,320.2 417.7,319.9 417.9,319.6 418.2,319.4 418.4,319.2 418.7,319 418.9,318.8 419.2,318.7 419.4,318.6 419.7,318.6 419.9,318.5 420.2,318.5 420.4,318.5 420.7,318.5 420.9,318.5 421.2,318.5 421.4,318.5 421.7,318.5 421.9,318.5 422.2,318.5 422.4,318.5 422.7,318.5 422.9,318.5 423.2,318.5 423.4,318.5 423.7,318.5 423.9,318.5 424.2,318.5 424.4,318.5 424.7,318.5 424.9,318.5 425.2,318.5 425.4,318.5 425.7,318.5 425.9,318.5 426.2,318.5 426.4,318.5 426.7,318.5 426.9,318.5 427.2,318.5 427.4,318.5 427.7,318.5 427.9,318.5 428.2,318.5 428.4,318.5 428.7,318.5 428.9,318.5 429.2,318.5 429.4,318.5 429.7,318.5 429.9,318.5 430.2,318.5 430.4,318.5 430.7,318.5 430.9,318.5 431.2,318.5 431.4,318.5 431.7,318.5 431.9,318.5 432.2,318.5 432.4,318.5 432.7,318.5 432.9,318.5 433.2,318.5 433.4,318.5 433.7,318.5 433.9,318.5 434.2,318.5 434.4,318.5 434.7,318.5 434.9,318.5 435.2,318.5 435.4,318.5 435.7,318.5 435.9,318.5 436.2,318.5 436.4,318.5 436.7,318.5 436.9,318.5 437.2,318.5 437.4,318.5 437.7,318.5 437.9,318.5 438.2,318.5 438.4,318.5 438.7,318.5 438.9,318.5 439.2,318.5 439.4,318.5 439.7,318.5 439.9,318.5 440.2,318.5 440.4,318.5 440.7,318.5 440.9,318.5 441.2,318.5 441.4,318.5 441.7,318.5 441.9,318.5 442.2,318.5 442.4,318.4 442.7,318.3 442.9,318.3 443.2,318.2 443.4,318 443.7,317.8 443.9,317.7 444.2,317.4 444.4,317.1 444.7,316.9 444.9,316.6 445.2,316.2 445.4,315.8 445.7,315.5 445.9,315.1 446.2,314.7 446.4,314.3 446.7,313.9 446.9,313.5 447.2,313.2 447.4,313 447.7,312.7 447.9,312.4 448.2,312.2 448.4,312.1 448.7,311.9 448.9,311.8 449.2,311.7 449.4,311.6 449.7,311.6 449.9,311.5 450.2,311.5 450.4,311.5 450.7,311.5 450.9,311.5 451.2,311.5 451.4,311.5 451.7,311.5 451.9,311.5 452.2,311.5 452.4,311.5 452.7,311.5 452.9,311.5 453.2,311.5 453.4,311.5 453.5,311.5 453.5,374.9" fill="#cccccc"/>
<path d="M402.1 326.9h.01M401.8 319.9h.01M402 317.3h.01M403.6 303.5h.01M407.4 327.2h.01M406.8 322.4h.01M404.7 312.9h.01M404.6 309.1h.01M407.9 326.5h.01M409.8 322.4h.01M410 317.4h.01M407.6 299.4h.01M410.7 320h.01M411.6 312.3h.01M412.3 304.3h.01M410.7 300.9h.01M415.6 327.6h.01M416.3 311.4h.01M414.4 305.7h.01M419.2 322.5h.01M418.9 304.5h.01M420.3 317.9h.01M420.2 315.5h.01M420.8 309.5h.01M420.2 299.5h.01M423.9 317.6h.01M424.8 314h.01M423.4 310.3h.01M424.6 305.2h.01M424.9 299.4h.01M425.9 320.2h.01M427.4 312.8h.01M425.6 311.5h.01M428.3 304.4h.01M428.6 318.5h.01M428.5 313.2h.01M429.8 309.4h.01M428.8 307.1h.01M429.1 304.2h.01M428.7 301.4h.01M434.2 319.1h.01M432.8 313.5h.01M433.4 310.4h.01M434.4 307.1h.01M431.5 303.5h.01M431.5 301.1h.01M436.2 317.8h.01M435.1 317.4h.01M434.9 313.9h.01M437.3 307.3h.01M437.3 301.8h.01M437.5 319.4h.01M439.9 317.5h.01M438.2 313.1h.01M439.6 311.1h.01M437.8 305.6h.01M437.9 303.9h.01M440.5 319.6h.01M443.4 314.9h.01M442 312h.01M440.8 304.8h.01M443.7 317.7h.01M444.9 314.9h.01M444.9 308.9h.01M446.3 299.5h.01M447.7 315.9h.01M448.6 302.8h.01M447.9 301.1h.01M452 311h.01M449.5 306h.01M449.7 301.6h.01M452.7 313h.01M454.3 308.4h.01M454.8 305.3h.01M456 305.8h.01M401.4 326h.01M403.1 324h.01M404.6 326.3h.01M406 323.2h.01M408.7 323.9h.01M411.6 323.2h.01M413.2 326.4h.01M415.7 325.9h.01M417.9 322.3h.01M419 319.2h.01M420.3 313.1h.01M423.1 318h.01M424.4 319.2h.01M426.5 317.7h.01M428.2 316.4h.01M430.2 315.8h.01M431.5 319.3h.01M433.2 317.8h.01M434.7 316.7h.01M436.2 318.5h.01M438.1 316.4h.01M440.7 318.3h.01M442.6 312.9h.01M445.4 316.1h.01M446.6 315.6h.01M448.9 313.1h.01M450 303h.01M452.8 312.2h.01M454.7 310.1h.01M426 237.3h.01M430.5 245.5h.01M406.8 247.3h.01M420.2 248.2h.01M403.3 263.1h.01M418.8 263.2h.01M414.4 265.5h.01M430.5 272.4h.01M436.7 272.7h.01M439.3 268h.01M405.1 282.5h.01M403.9 284.3h.01M418.2 282.9h.01M418.2 286.1h.01M437.5 283.8h.01M437.9 287.3h.01M420 291.3h.01M438.4 290.8h.01M420 294.3h.01M427 294.3h.01M432.3 294.3h.01M420 297.8h.01M427 297.8h.01M435.8 296.9h.01M439.3 294.3h.01M404.2 301h.01M454 266.1h.01M442.1 267.1h.01M442.1 277.6h.01M447 289.9h.01M451.4 297.8h.01M440.9 296.9h.01M448.8 300.8h.01M453.2 301.3h.01" stroke="#cccccc" stroke-width="5.5" stroke-linecap="round" fill="none"/>
<polygon points="453.5,374.9 453.5,339.5 453.8,339.5 454,339.5 454.2,339.5 454.5,339.5 454.8,339.5 455,339.5 455.2,339.5 455.5,339.5 455.8,339.5 456,339.5 456.2,339.5 456.5,339.5 456.8,339.5 457,339.5 457.2,339.5 457.5,339.5 457.8,339.5 458,339.5 458.2,339.5 458.5,339.5 458.8,339.5 459,339.5 459.2,339.5 459.5,339.5 459.8,339.5 460,339.5 460.2,339.5 460.5,339.5 460.8,339.5 461,339.5 461.2,339.5 461.5,339.5 461.8,339.5 462,339.5 462.2,339.5 462.5,339.5 462.8,339.5 463,339.5 463.2,339.5 463.5,339.5 463.8,339.5 464,339.5 464.2,339.5 464.5,339.5 464.8,339.5 465,339.5 465.2,339.5 465.5,339.5 465.8,339.5 466,339.5 466.2,339.5 466.5,339.5 466.8,339.5 467,339.5 467.2,339.5 467.5,339.5 467.8,339.5 468,339.5 468.2,339.5 468.5,339.5 468.8,339.5 469,339.5 469.2,339.5 469.5,339.5 469.8,339.5 470,339.5 470.2,339.5 470.5,339.5 470.8,339.5 471,339.5 471.2,339.5 471.5,339.5 471.8,339.5 472,339.5 472.2,339.5 472.5,339.5 472.8,339.5 473,339.5 473.2,339.5 473.5,339.5 473.8,339.5 474,339.5 474.2,339.5 474.5,339.5 474.8,339.5 475,339.5 475.2,339.5 475.5,339.5 475.8,339.5 476,339.5 476.2,339.5 476.5,339.5 476.8,339.5 477,339.5 477.2,339.5 477.5,339.5 477.8,339.5 478,339.5 478.2,339.5 478.5,339.5 478.8,339.5 479,339.5 479.2,339.5 479.5,339.5 479.8,339.5 480,339.5 480.2,339.5 480.5,339.5 480.8,339.5 481,339.5 481.2,339.5 481.5,339.5 481.8,339.5 482,339.5 482.2,339.5 482.5,339.5 482.8,339.5 483,339.5 483.2,339.5 483.5,339.5 483.8,339.5 484,339.5 484.2,339.5 484.5,339.5 484.8,339.5 485,339.5 485.2,339.5 485.5,339.5 485.8,339.5 486,339.5 486.2,339.5 486.5,339.5 486.8,339.5 487,339.5 487.2,339.5 487.5,339.5 487.8,339.5 488,339.5 488.2,339.5 488.5,339.5 488.8,339.5 489,339.5 489.2,339.5 489.5,339.5 489.8,339.5 490,339.5 490.2,339.5 490.5,339.5 490.8,339.5 491,339.5 491.2,339.5 491.5,339.5 491.8,339.5 492,339.5 492.2,339.5 492.5,339.5 492.8,339.5 493,339.5 493.2,339.5 493.5,339.5 493.8,339.5 494,339.5 494.2,339.1 494.5,338.7 494.8,338.3 495,337.9 495.2,337.2 495.5,336.4 495.8,335.6 496,334.8 496.2,333.6 496.5,332.5 496.8,331.3 497,330.1 497.2,328.6 497.5,327 497.8,325.4 498,323.9 498.2,322.7 498.5,321.5 498.8,320.4 499,319.2 499.2,318.4 499.5,317.6 499.8,316.8 500,316.1 500.2,315.7 500.5,315.3 500.8,314.9 501,314.5 501.2,314.5 501.5,314.5 501.8,314.5 502,314.5 502.2,314.3 502.5,314.2 502.8,314 503,313.8 503.2,313.5 503.5,313.1 503.8,312.8 504,312.4 504.2,311.9 504.5,311.4 504.8,310.9 505,310.4 505.2,309.7 505.5,309 505.8,308.3 506,307.6 506.2,307.1 506.5,306.6 506.8,306.1 507,305.6 507.2,305.2 507.5,304.9 507.8,304.5 508,304.2 508.2,304 508.5,303.8 508.8,303.7 509,303.5 509.2,303.5 509.5,303.5 509.8,303.5 509.8,303.5 509.8,374.9" fill="#757575"/>
<path d="M458.5 339.2h.01M456.5 337.3h.01M459.1 335.3h.01M458.6 332.1h.01M456.5 329h.01M458.7 326h.01M458.5 322.2h.01M456.6 319.8h.01M457 312.3h.01M461.7 337.5h.01M460 334.1h.01M461.8 328.5h.01M461.5 325.5h.01M460.5 321h.01M459.3 315.2h.01M465 340.3h.01M464.9 336.2h.01M465 333.1h.01M464.2 319.4h.01M463.9 313.5h.01M464.8 306h.01M466.3 339.2h.01M466.3 331.8h.01M466.2 329.4h.01M465.5 323.3h.01M466.6 316.3h.01M467.1 305.8h.01M469.7 340.3h.01M468.9 334.4h.01M471.1 330.4h.01M471 329.4h.01M469.5 324.3h.01M468.5 321.9h.01M468.9 312.3h.01M470.9 305.5h.01M472.8 339.5h.01M474.1 335.5h.01M473.6 334.9h.01M473.5 326.9h.01M474 325.9h.01M472.8 320.8h.01M474 312.8h.01M473.1 309.1h.01M476.5 340.8h.01M475.8 338h.01M477 334.9h.01M476.4 330.3h.01M476.8 320.7h.01M477.1 319.2h.01M474.5 315.1h.01M475.6 309.6h.01M477.5 340.9h.01M478.8 337.9h.01M478.6 332.6h.01M480.1 331.1h.01M479 329.1h.01M477.5 324.4h.01M478.3 319.2h.01M479.3 316.3h.01M479.8 312.8h.01M479.8 309.3h.01M479.1 305.7h.01M482.6 339.7h.01M481.3 335.7h.01M481.5 335h.01M482.9 330.1h.01M481.2 328.1h.01M481.3 323.8h.01M481.8 320.7h.01M481.2 316.3h.01M481.4 307.3h.01M483.4 339.1h.01M483.9 338.3h.01M485.5 333.3h.01M486 326.2h.01M483.8 318.3h.01M483.5 311.9h.01M483.4 302.1h.01M489.2 340.2h.01M487 337.8h.01M486.8 326h.01M488.5 323.3h.01M488.3 320.4h.01M488.6 315.8h.01M488.9 312.7h.01M487.4 308.7h.01M489.3 339.1h.01M491.3 336.8h.01M490.5 332.6h.01M490.2 325.4h.01M492 321.1h.01M494.5 341.1h.01M495 333.7h.01M495.1 332.2h.01M493.1 326.2h.01M494.4 319.7h.01M493.7 309.3h.01M494.2 307.7h.01M496.5 335.9h.01M495.6 333.5h.01M497.3 332.6h.01M497.5 326.4h.01M496.4 323h.01M496.7 317.5h.01M496.6 307.4h.01M498.7 321.3h.01M500.6 320.4h.01M501 313.3h.01M500.8 301.8h.01M502.7 315h.01M502.4 311.8h.01M501.7 304.8h.01M504.1 301.6h.01M507.2 312.9h.01M504.3 306h.01M505.8 304.3h.01M507.8 304.6h.01M510 303.2h.01M510.6 303.7h.01M456.2 339.5h.01M457.4 337.9h.01M459.3 339.6h.01M461.3 333.6h.01M462.8 340.1h.01M464.4 339.5h.01M467.2 337.4h.01M469.1 340h.01M470.2 340.2h.01M472.9 337.9h.01M474.2 338h.01M475.3 338.7h.01M477 340.2h.01M479.4 337.3h.01M481.5 340h.01M483.8 339.1h.01M486.1 340.3h.01M488.9 340.5h.01M490.4 339.2h.01M491.8 340.3h.01M494.2 328.5h.01M495.8 339h.01M498.2 331.5h.01M500 319.2h.01M501.8 315.9h.01M503 313.5h.01M505.9 305.9h.01M507.1 307.5h.01M509.1 305h.01M511.5 302.8h.01M511.4 240.4h.01M471.9 263.4h.01M488.2 263.2h.01M503.5 263.1h.01M511.4 266.8h.01M511.4 272.4h.01M490.5 277.6h.01M511.4 277.6h.01M511.4 281.1h.01M511.4 284.6h.01M473 281.3h.01M476 284.3h.01M477.7 285.9h.01M499.6 285.5h.01M499.6 287.3h.01M494.7 288.2h.01M457.5 289.6h.01M490.5 290.8h.01M490.5 293.4h.01M506.7 291.3h.01M511.4 291.7h.01M509.3 295.2h.01M478.9 297.1h.01M500.5 296.9h.01M505.8 296.9h.01M511.4 296h.01M463.7 301h.01M487.4 300.8h.01M503.2 299.6h.01M508.4 299.6h.01" stroke="#757575" stroke-width="5.5" stroke-linecap="round" fill="none"/>
<polygon points="509.8,374.9 509.8,315.5 510.1,315.5 510.3,315.5 510.6,315.5 510.8,315.5 511.1,315.5 511.3,315.5 511.6,315.5 511.8,315.5 512,315.5 512.3,315.5 512.5,315.5 512.8,315.5 513,315.5 513.3,315.5 513.5,315.5 513.8,315.5 514,315.5 514.3,315.5 514.5,315.5 514.8,315.5 515,315.5 515.3,315.5 515.5,315.5 515.8,315.5 516,315.6 516.3,315.8 516.5,316.1 516.8,316.4 517,316.7 517.3,317.3 517.5,317.9 517.8,318.4 518,319 518.3,319.9 518.5,320.7 518.8,321.6 519,322.5 519.3,323.6 519.5,324.7 519.8,325.8 520,326.9 520.3,327.8 520.5,328.6 520.8,329.4 521,330.2 521.3,330.8 521.5,331.4 521.8,331.9 522,332.4 522.3,332.7 522.5,333 522.8,333.3 523,333.5 523.3,333.5 523.5,333.5 523.8,333.5 524,333.5 524.3,333.5 524.5,333.5 524.8,333.5 525,333.5 525.3,333.5 525.5,333.5 525.8,333.5 526,333.5 526.3,333.5 526.5,333.5 526.8,333.5 527,333.5 527.3,333.5 527.5,333.5 527.8,333.5 528,333.5 528.3,333.5 528.5,333.5 528.8,333.5 529,333.5 529.3,333.5 529.5,333.5 529.8,333.5 530,333.5 530.3,333.5 530.5,333.5 530.8,333.5 531,333.5 531.3,333.5 531.5,333.5 531.8,333.5 532,333.5 532.3,333.5 532.5,333.5 532.8,333.5 533,333.5 533.3,333.5 533.5,333.5 533.8,333.5 534,333.5 534.3,333.5 534.5,333.5 534.8,333.5 535,333.5 535.3,333.5 535.5,333.5 535.8,333.5 536,333.5 536.3,333.5 536.5,333.5 536.8,333.5 537,333.5 537.3,333.5 537.5,333.5 537.8,333.5 538,333.5 538.3,333.5 538.5,333.5 538.8,333.5 539,333.5 539.3,333.5 539.5,333.5 539.8,333.5 540,333.5 540.3,333.5 540.5,333.5 540.8,333.5 541,333.5 541.3,333.5 541.5,333.5 541.8,333.5 542,333.5 542.3,333.5 542.5,333.5 542.8,333.5 543,333.5 543.3,333.5 543.5,333.5 543.8,333.5 544,333.5 544.3,333.5 544.5,333.5 544.8,333.5 545,333.4 545.3,333.2 545.5,332.9 545.8,332.6 546,332.3 546.3,331.7 546.5,331.1 546.8,330.6 547,330 547.3,329.1 547.5,328.3 547.8,327.4 548,326.5 548.3,325.4 548.5,324.3 548.8,323.2 549,322.1 549.3,321.2 549.5,320.4 549.8,319.6 550,318.8 550.3,318.2 550.5,317.6 550.8,317.1 551,316.6 551.3,316.3 551.5,316 551.8,315.7 552,315.5 552.3,315.5 552.5,315.5 552.8,315.5 553,315.5 553.3,315.5 553.5,315.5 553.8,315.5 554,315.5 554.3,315.5 554.5,315.5 554.8,315.5 555,315.5 555.3,315.5 555.5,315.5 555.8,315.5 556,315.5 556.3,315.5 556.5,315.5 556.8,315.5 557,315.5 557.3,315.5 557.5,315.5 557.8,315.5 558,315.5 558.3,315.5 558.5,315.5 558.7,315.5 558.7,374.9" fill="#cccccc"/>
<path d="M515.4 315.1h.01M514 311.1h.01M517.7 314.9h.01M518.2 309.3h.01M516.7 306.5h.01M515.7 304.4h.01M520.3 322.5h.01M520.1 318.6h.01M520.5 316.6h.01M520.9 309h.01M523.8 331.4h.01M522.3 328.3h.01M521.7 314.6h.01M524.4 311.1h.01M527.1 332.9h.01M525.8 331.6h.01M525 325.7h.01M527.1 314.8h.01M525.1 312.2h.01M524.9 308.8h.01M528.4 334.9h.01M529.3 324.8h.01M527.7 322.5h.01M528.2 310.6h.01M531.4 333.2h.01M533.5 332.3h.01M531.2 327.6h.01M532.9 317.2h.01M532.8 313.2h.01M531.9 307.9h.01M530.8 305.2h.01M536.1 334.9h.01M534.6 327.7h.01M533.8 320.6h.01M533.9 318.5h.01M534.5 312h.01M534.8 308.6h.01M534.8 308h.01M539.4 333.5h.01M538 328.9h.01M538.5 324.4h.01M538.5 323.1h.01M538.1 316.6h.01M538 309.7h.01M537.5 306.5h.01M541.4 326.4h.01M542.1 314h.01M542.2 304.2h.01M544.4 335.1h.01M543.4 331.7h.01M544.9 316.7h.01M542.8 302.7h.01M547.8 332.2h.01M547.6 330.6h.01M546.2 325.9h.01M547.1 324.2h.01M547.8 320.5h.01M546.2 315.7h.01M547.1 307.3h.01M549.7 324h.01M549.9 322.7h.01M551 315.1h.01M550.9 306.8h.01M552 317.3h.01M553 310.3h.01M554.3 299.3h.01M556.2 315.3h.01M557.1 311.9h.01M555.3 311.2h.01M554.8 307h.01M555.5 304.1h.01M560.4 316h.01M512.5 314.5h.01M515.2 316.2h.01M517.6 316.6h.01M520.5 323.8h.01M522.9 331.3h.01M524.3 333.2h.01M526.3 333.2h.01M527.6 332.7h.01M529.2 326h.01M530.9 333.1h.01M532.4 325.8h.01M534 331.9h.01M536.7 333.3h.01M539.2 333.7h.01M540.4 334.4h.01M542.3 329.3h.01M543.7 333h.01M546.2 333.7h.01M547.6 331.1h.01M549.4 320.7h.01M552.2 317.3h.01M554.3 315.2h.01M555.4 315h.01M558.2 315.6h.01M560.4 313.4h.01M559.3 247.3h.01M554.6 258.9h.01M516.7 259.6h.01M516.7 265.4h.01M512.8 273.6h.01M516.7 284.6h.01M512.8 290.3h.01M557.2 282.9h.01M552.3 287.6h.01M557.5 291.7h.01M542.3 295.2h.01M540.9 297.5h.01M555.8 296h.01M515.4 296.9h.01M518.1 296.9h.01M526 300.8h.01M533 301.3h.01M554 300.8h.01" stroke="#cccccc" stroke-width="5.5" stroke-linecap="round" fill="none"/>
<polygon points="558.7,374.9 558.7,318.5 559,318.5 559.2,318.5 559.5,318.5 559.7,318.5 560,318.5 560.2,318.5 560.5,318.5 560.7,318.5 561,318.5 561.2,318.5 561.5,318.5 561.7,318.5 562,318.5 562.2,318.5 562.5,318.5 562.7,318.5 563,318.5 563.2,318.5 563.5,318.5 563.7,318.5 564,318.5 564.2,318.7 564.5,318.9 564.7,319.2 565,319.4 565.2,319.8 565.5,320.3 565.7,320.8 566,321.2 566.2,321.9 566.5,322.6 566.7,323.3 567,324 567.2,324.9 567.5,325.9 567.7,326.8 568,327.8 568.2,328.6 568.5,329.3 568.7,330 569,330.8 569.2,331.3 569.5,331.8 569.7,332.3 570,332.8 570.2,333.1 570.5,333.4 570.7,333.7 571,334 571.2,334.1 571.5,334.1 571.7,334.1 572,334.2 572.2,334.2 572.5,334.3 572.7,334.3 573,334.4 573.2,334.4 573.5,334.4 573.7,334.5 574,334.5 574.2,334.6 574.5,334.6 574.7,334.7 575,334.7 575.2,334.8 575.5,334.8 575.7,334.8 576,334.9 576.2,334.9 576.5,335 576.7,335 577,335.1 577.2,335.1 577.5,335.1 577.7,335.2 578,335.2 578.2,335.3 578.5,335.3 578.7,335.4 579,335.4 579.2,335.4 579.5,335.5 579.7,335.5 580,335.6 580.2,335.6 580.5,335.7 580.7,335.7 581,335.8 581.2,335.8 581.5,335.8 581.7,335.9 582,335.9 582.2,336 582.5,336 582.7,336.1 583,336.1 583.2,336.1 583.5,336.2 583.7,336.2 584,336.3 584.2,336.3 584.5,336.4 584.7,336.4 585,336.4 585.2,336.5 585.5,336.5 585.7,336.6 586,336.6 586.2,336.7 586.5,336.7 586.7,336.8 587,336.8 587.2,336.8 587.5,336.9 587.7,336.9 588,337 588.2,336.8 588.5,336.6 588.7,336.3 589,336.1 589.2,335.7 589.5,335.2 589.7,334.7 590,334.2 590.2,333.5 590.5,332.7 590.7,331.9 591,331.2 591.2,330.2 591.5,329.1 591.7,328.1 592,327 592.2,326.2 592.5,325.4 592.7,324.6 593,323.8 593.2,323.3 593.5,322.7 593.7,322.2 594,321.7 594.2,321.3 594.5,321.1 594.7,320.8 595,320.6 595.2,320.5 595.5,320.5 595.7,320.5 596,320.5 596.2,320.5 596.5,320.5 596.7,320.5 597,320.5 597.2,320.5 597.5,320.5 597.7,320.5 598,320.5 598.2,320.4 598.5,320.4 598.7,320.4 599,320.4 599.2,320.4 599.5,320.4 599.7,320.3 600,320.3 600.2,320.3 600.5,320.2 600.7,320.2 601,320.2 601.2,320.1 601.5,320.1 601.7,320.1 602,320 602.2,320 602.5,319.9 602.7,319.9 603,319.9 603.2,319.8 603.5,319.8 603.7,319.7 604,319.7 604.2,319.7 604.5,319.6 604.7,319.6 605,319.5 605.2,319.5 605.5,319.5 605.7,319.4 606,319.4 606.2,319.3 606.5,319.3 606.7,319.3 607,319.2 607.2,319.2 607.5,319.1 607.7,319.1 608,319.1 608.2,319 608.5,319 608.7,318.9 609,318.9 609.2,318.9 609.5,318.8 609.7,318.8 610,318.8 610.2,318.8 610.5,318.7 610.7,318.7 610.9,318.7 610.9,374.9" fill="#757575"/>
<path d="M561.8 319.6h.01M561.5 316.4h.01M562.9 314.5h.01M562.1 311.3h.01M562 306.9h.01M563.9 304.2h.01M565.9 320.5h.01M565.3 316.3h.01M565.3 313.1h.01M566.9 310.6h.01M564.8 307.5h.01M569.1 328.1h.01M568.2 320.5h.01M568.8 317.2h.01M569.4 316h.01M569.4 311.3h.01M568 307.5h.01M573 334.8h.01M572.6 329.7h.01M572.8 322.1h.01M571.6 318.2h.01M570.9 306.9h.01M573.5 335.2h.01M573.5 330.9h.01M573.5 327.6h.01M574.2 327.4h.01M575.6 322.7h.01M574.2 320.6h.01M576.4 312.8h.01M576 312.4h.01M578.3 335.2h.01M577.4 325.2h.01M576.8 324h.01M579.9 336h.01M582.3 331.5h.01M581.8 329.6h.01M582.4 328h.01M580.8 325.5h.01M580.7 319.7h.01M582 317.2h.01M580.4 312h.01M584.5 335.1h.01M584.2 332h.01M583.2 327.2h.01M584.1 324.9h.01M583.7 322.7h.01M587.2 337.4h.01M587.7 333.7h.01M587.1 329.8h.01M588.2 327.9h.01M586.8 321.9h.01M589.2 337.3h.01M590.6 333.9h.01M589.4 330.7h.01M590 319.3h.01M591.6 329.6h.01M591.9 326.7h.01M593.2 324.2h.01M591.9 316.1h.01M594.3 310.2h.01M594.1 304.1h.01M596.2 322.1h.01M596.1 319.5h.01M596.5 308.9h.01M596.8 305.7h.01M595.3 299.6h.01M600.1 321.2h.01M597.5 318.5h.01M599.8 314.3h.01M599.5 310.1h.01M598.3 306.6h.01M602 319.9h.01M601.7 316.3h.01M601.6 313.7h.01M600.8 308.3h.01M604.7 318.8h.01M606 316.3h.01M605.9 315.1h.01M604.7 309.2h.01M606.4 300.1h.01M607.5 320h.01M609.3 316.5h.01M607.7 314.5h.01M607.9 310.9h.01M607.1 306.1h.01M607.5 300.9h.01M610.1 320.7h.01M609.6 315.6h.01M610.3 313.5h.01M610 311.3h.01M611.6 304.8h.01M613.3 304.8h.01M561.5 318.9h.01M564 317.5h.01M566.5 319h.01M567.6 319.3h.01M569 326.1h.01M570 330.2h.01M572.4 331.4h.01M574.6 334h.01M577.1 333.1h.01M578.5 334.2h.01M580.7 333.2h.01M582.1 335.8h.01M583.8 336.8h.01M585.5 334h.01M587.7 337.2h.01M590.1 337h.01M592.6 330.6h.01M593.8 325.7h.01M595.8 321.3h.01M598.6 314.5h.01M600.2 317.9h.01M602.6 319.1h.01M604.1 313.4h.01M607 320.4h.01M608.6 319.2h.01M610 318.5h.01M612.8 319.6h.01M560 277.1h.01M560 285.5h.01M610.7 231.4h.01M600.3 240.8h.01M588.1 245.3h.01M609.6 252.7h.01M612.1 257.5h.01M601.4 258.7h.01M598.2 263.2h.01M600.4 265.7h.01M588.1 270.3h.01M597.5 271.5h.01M564.7 271.5h.01M561.8 276.8h.01M580.5 277.6h.01M576.1 279.4h.01M612.1 279.4h.01M609.6 282h.01M601.6 283.8h.01M581.1 283.8h.01M583.3 284.6h.01M561.8 285.9h.01M577 287.3h.01M580.5 289h.01M597.4 287.3h.01M607.9 289h.01M593 291.1h.01M601.2 292.9h.01M609.6 292.5h.01M564.4 292.5h.01M562.6 295.2h.01M609.6 296h.01M611.4 296.9h.01M600.7 299.2h.01M567 301.3h.01M581 301.3h.01M605.6 301.3h.01" stroke="#757575" stroke-width="5.5" stroke-linecap="round" fill="none"/>
<polygon points="610.9,374.9 610.9,314.5 611.1,314.5 611.4,314.5 611.6,314.5 611.9,314.5 612.1,314.5 612.4,314.5 612.6,314.5 612.9,314.5 613.1,314.5 613.4,314.5 613.6,314.5 613.9,314.5 614.1,314.5 614.4,314.5 614.6,314.5 614.9,314.5 615.1,314.5 615.4,314.5 615.6,314.5 615.9,314.5 616.1,314.5 616.4,314.5 616.6,314.5 616.9,314.5 617.1,314.5 617.4,314.5 617.6,314.5 617.9,314.5 618.1,314.5 618.4,314.5 618.6,314.5 618.9,314.5 619.1,314.5 619.4,314.5 619.6,314.5 619.9,314.5 620.1,314.5 620.4,314.5 620.6,314.5 620.9,314.5 621.1,314.5 621.4,314.5 621.6,314.5 621.9,314.5 622.1,314.5 622.4,314.5 622.6,314.5 622.9,314.5 623.1,314.5 623.4,314.5 623.6,314.5 623.9,314.5 624.1,314.5 624.4,314.5 624.6,314.5 624.9,314.5 625.1,314.5 625.4,314.5 625.6,314.5 625.9,314.5 626.1,314.6 626.4,314.9 626.6,315.1 626.9,315.4 627.1,315.8 627.4,316.3 627.6,316.8 627.9,317.3 628.1,317.9 628.4,318.7 628.6,319.4 628.9,320.2 629.1,321.1 629.4,322.1 629.6,323.1 629.9,324.1 630.1,324.9 630.4,325.7 630.6,326.4 630.9,327.2 631.1,327.8 631.4,328.3 631.6,328.8 631.9,329.3 632.1,329.6 632.4,329.9 632.6,330.1 632.9,330.4 633.1,330.5 633.4,330.5 633.6,330.5 633.9,330.5 634.1,330.5 634.4,330.5 634.6,330.5 634.9,330.5 635.1,330.5 635.4,330.5 635.6,330.5 635.9,330.5 636.1,330.5 636.4,330.5 636.6,330.5 636.9,330.5 637.1,330.5 637.4,330.5 637.6,330.5 637.9,330.5 638.1,330.5 638.4,330.5 638.6,330.5 638.9,330.5 639.1,330.5 639.4,330.5 639.6,330.5 639.9,330.5 640.1,330.5 640.4,330.5 640.6,343 640.9,343 641.1,343 641.4,343 641.6,343 641.9,330.5 642.1,330.5 642.4,330.5 642.6,330.5 642.9,330.5 643.1,330.5 643.4,330.5 643.6,330.5 643.9,330.5 644.1,330.5 644.4,330.5 644.6,330.5 644.9,330.5 645.1,330.5 645.4,330.5 645.6,330.5 645.9,330.5 646.1,330.5 646.4,330.5 646.6,330.5 646.9,330.5 647.1,330.4 647.4,330.4 647.6,330.3 647.9,330.2 648.1,330 648.4,329.8 648.6,329.6 648.9,329.5 649.1,329.2 649.4,328.9 649.6,328.6 649.9,328.4 650.1,328 650.4,327.7 650.6,327.3 650.9,326.9 651.1,326.6 651.4,326.3 651.6,326 651.9,325.7 652.1,325.5 652.4,325.3 652.6,325.1 652.9,325 653.1,324.8 653.4,324.7 653.6,324.6 653.9,324.5 654.1,324.5 654.4,324.5 654.6,324.5 654.9,324.5 655.1,324.5 655.4,324.5 655.6,324.5 655.9,324.5 656.1,324.5 656.4,324.5 656.6,324.5 656.9,324.5 657.1,324.5 657.4,324.5 657.6,324.5 657.9,324.5 658.1,324.5 658.4,324.5 658.6,324.5 658.9,324.5 659.1,324.5 659.4,324.5 659.6,324.5 659.9,324.5 660.1,324.5 660.4,324.5 660.6,324.5 660.9,324.5 661.1,324.5 661.4,324.5 661.6,324.5 661.9,324.5 662.1,324.5 662.4,324.5 662.6,324.5 662.9,324.5 663.1,324.5 663.4,324.5 663.6,324.5 663.9,324.5 664.1,324.5 664.4,324.5 664.6,324.5 664.9,324.5 665.1,324.5 665.4,324.5 665.6,324.5 665.9,324.5 666.1,324.5 666.4,324.5 666.6,324.5 666.9,324.5 667.1,324.5 667.4,324.5 667.6,324.5 667.9,324.5 668.1,324.5 668.4,324.5 668.6,324.5 668.9,324.5 669,324.5 669,374.9" fill="#cccccc"/>
<path d="M613.7 313.8h.01M614.3 313.1h.01M614 310h.01M615.4 306.2h.01M615.2 302.2h.01M618.1 314.5h.01M618.5 312.2h.01M618.8 307.4h.01M617 304.1h.01M622.5 316.1h.01M622.5 301.2h.01M622.9 313.9h.01M627.6 314.8h.01M626.9 310.7h.01M626.9 310.3h.01M628.5 302h.01M631.6 321.2h.01M629.6 317.9h.01M629.9 315.7h.01M632 328.9h.01M637.6 332.2h.01M636.8 328.3h.01M637.3 311.7h.01M637.8 315.3h.01M640.1 312.5h.01M641.9 312.6h.01M641 303.8h.01M646.4 332h.01M648 330.9h.01M647.2 328.5h.01M648.8 319.2h.01M647.4 316.9h.01M651.2 328h.01M652.6 319.2h.01M652.6 314.7h.01M651.6 308.4h.01M653.7 326.5h.01M653.1 316.2h.01M655.3 308.7h.01M656 325.6h.01M657.7 315.1h.01M657.6 310.5h.01M656.1 307.3h.01M659 325.7h.01M661.3 322.5h.01M660.8 312.1h.01M662.7 324.4h.01M664.2 321.2h.01M662.5 314.8h.01M661.9 310.9h.01M664.1 303.9h.01M664.7 325.8h.01M665.5 318.2h.01M665.5 314.8h.01M613.6 313.6h.01M616.6 315.5h.01M619.4 312.4h.01M621.3 310.8h.01M622.6 314.5h.01M625.1 311.2h.01M626.8 303.5h.01M629.1 317.9h.01M630.4 321.3h.01M632.5 327.8h.01M634 329.7h.01M635.2 325.5h.01M637.9 329.5h.01M644.9 323.7h.01M647.4 327.1h.01M648.5 331.1h.01M650.2 330.2h.01M652 317.6h.01M654.7 317.8h.01M656.2 324.9h.01M657.2 324.7h.01M658.3 323.6h.01M659.9 322.7h.01M662 323.2h.01M663.6 322.2h.01M666 322.4h.01M625.3 230.5h.01M653.9 244h.01M627.9 247.8h.01M619.5 266.4h.01M625.4 271.8h.01M631.4 271h.01M653.5 276.6h.01M620.9 281.1h.01M638.1 283.1h.01M614.4 285.2h.01M624.6 284.6h.01M643.9 287.3h.01M620.5 288.2h.01M650.7 290.3h.01M617.9 291.3h.01M622.3 292.5h.01M646 292.9h.01M633.7 293.9h.01M654.7 293.9h.01M634.6 296.9h.01M621.4 296h.01M662.3 296.4h.01M652.5 296.9h.01M615.8 299.6h.01M659.1 298.7h.01M626.7 300.4h.01M651.2 300.8h.01M665.3 300.8h.01M642.1 301.7h.01" stroke="#cccccc" stroke-width="5.5" stroke-linecap="round" fill="none"/>
<path d="M70.5 192.5H685" stroke="#1c36ff" stroke-width="1.15" fill="none"/>
<path d="M70.5 227.3H685" stroke="#ff2a20" stroke-width="1.35" fill="none"/>
<path d="M108 163.8h.01M117 209.6h.01M173.1 203.5h.01M185.6 212.8h.01M217.7 214.3h.01M225.3 134.9h.01M237.9 222.2h.01M251 189.5h.01M254.5 216.1h.01M254.5 222.2h.01M269.6 192.1h.01M254.6 69.3h.01M249.2 75.7h.01M216.8 107.3h.01M275 213.7h.01M281.1 218.4h.01M385.6 151.5h.01M377.4 174.6h.01M379.6 182.8h.01M405.2 175.2h.01M377.5 192.4h.01M377.5 194.5h.01M377.5 196.3h.01M377.5 197.6h.01M377.5 210.8h.01M427.4 196.2h.01M418.8 92.1h.01M495.7 180.7h.01M504.7 179.6h.01M504.7 183.4h.01M588.2 167.3h.01M608.7 173.4h.01M621.5 139.9h.01M617.2 198.8h.01" stroke="#00cd00" stroke-width="5.5" stroke-linecap="round" fill="none"/>
</g>
<path d="M70.5 4.5V375.9M62 375.3H70.5M62 301.3H70.5M62 227.2H70.5M62 153.2H70.5M62 79.1H70.5M62 5.1H70.5" stroke="#262626" stroke-width="1.1" fill="none" stroke-linecap="butt"/>
<path d="M123.5 375.5H638.9M124 375.5V383.4M188.8 375.5V383.4M256.4 375.5V383.4M320.6 375.5V383.4M377.6 375.5V383.4M434.3 375.5V383.4M481.9 375.5V383.4M542 375.5V383.4M589.5 375.5V383.4M638.3 375.5V383.4" stroke="#262626" stroke-width="1.1" fill="none" stroke-linecap="butt"/>
<g class="t"><text x="53.5" y="380.1" text-anchor="end">0</text><text x="53.5" y="306.1" text-anchor="end">2</text><text x="53.5" y="232" text-anchor="end">4</text><text x="53.5" y="158" text-anchor="end">6</text><text x="53.5" y="83.9" text-anchor="end">8</text><text x="53.5" y="9.9" text-anchor="end">10</text><text x="124" y="404.7" text-anchor="middle">1</text><text x="188.8" y="404.7" text-anchor="middle">2</text><text x="256.4" y="404.7" text-anchor="middle">3</text><text x="320.6" y="404.7" text-anchor="middle">4</text><text x="377.6" y="404.7" text-anchor="middle">5</text><text x="434.3" y="404.7" text-anchor="middle">6</text><text x="481.9" y="404.7" text-anchor="middle">7</text><text x="542" y="404.7" text-anchor="middle">8</text><text x="589.5" y="404.7" text-anchor="middle">9</text><text x="638.3" y="404.7" text-anchor="middle">10</text></g>
<text class="l" x="377.6" y="437.4" text-anchor="middle">Chromosomes</text>
<text class="l" transform="translate(13.6 189.4) rotate(-90)" text-anchor="middle" letter-spacing="0.2">-log<tspan font-size="12.4px" dy="3.5">10</tspan><tspan dy="-3.5">(</tspan><tspan font-style="italic">p</tspan>)</text>
</svg>
</body></html>
